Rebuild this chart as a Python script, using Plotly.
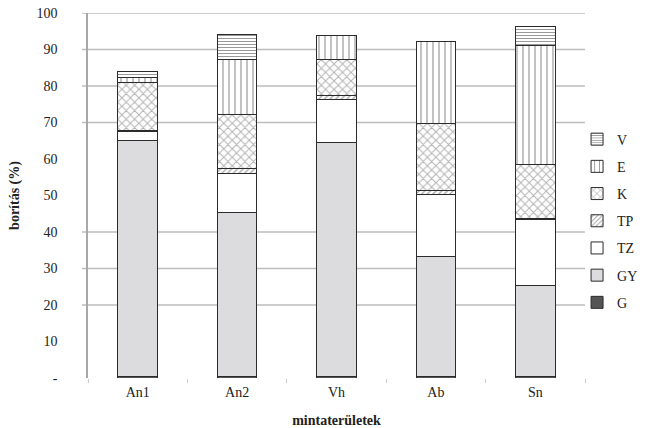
import plotly.graph_objects as go

categories = ["An1", "An2", "Vh", "Ab", "Sn"]

# stacked from bottom to top
G = [0.3, 0.4, 0.3, 0.3, 0.3]
GY = [64.7, 45.0, 64.3, 32.9, 25.0]
TZ = [2.5, 10.7, 11.6, 17.2, 18.0]
TP = [0.4, 1.2, 1.3, 1.1, 0.5]
K = [13.0, 14.9, 9.8, 18.3, 14.7]
E = [1.5, 15.0, 6.5, 22.5, 32.7]
V = [1.7, 6.9, 0.0, 0.0, 5.1]

y_tick_vals = [0, 10, 20, 30, 40, 50, 60, 70, 80, 90, 100]
y_tick_text = ["-", "10", "20", "30", "40", "50", "60", "70", "80", "90", "100"]
grid_values = [20, 30, 40, 70, 80, 90, 100]

FONT = "Liberation Serif"
LINE = dict(color="#2b2b2b", width=1)

series = [
    ("G", G, dict(color="#555555", line=LINE)),
    ("GY", GY, dict(color="#dcdcde", line=LINE)),
    ("TZ", TZ, dict(color="#ffffff", line=LINE)),
    ("TP", TP, dict(color="#ffffff", line=LINE,
                    pattern=dict(shape="/", fgcolor="#444444", bgcolor="#ffffff", size=4, solidity=0.3))),
    ("K", K, dict(color="#ffffff", line=LINE,
                  pattern=dict(shape="x", fgcolor="#666666", bgcolor="#ffffff", size=6, solidity=0.3))),
    ("E", E, dict(color="#ffffff", line=LINE,
                  pattern=dict(shape="|", fgcolor="#333333", bgcolor="#ffffff", size=6, solidity=0.2))),
    ("V", V, dict(color="#ffffff", line=LINE,
                  pattern=dict(shape="-", fgcolor="#333333", bgcolor="#ffffff", size=3, solidity=0.35))),
]

fig = go.Figure()
n = len(series)
for i, (name, vals, marker) in enumerate(series):
    fig.add_trace(go.Bar(x=categories, y=vals, name=name, marker=marker,
                         width=0.4, legendgroup=name, legendrank=n - i))

for gv in grid_values:
    fig.add_shape(type="line", xref="paper", yref="y", x0=-0.012, x1=1, y0=gv, y1=gv,
                  line=dict(color="#bdbdbd", width=1.5), layer="below")

fig.update_layout(
    width=645, height=428,
    margin=dict(l=88, r=60, t=13, b=50, autoexpand=False),
    barmode="stack",
    plot_bgcolor="white", paper_bgcolor="white",
    font=dict(family=FONT, size=14, color="#222222"),
    showlegend=True,
    legend=dict(x=0.984, xanchor="left", y=0.43, yanchor="middle",
                traceorder="grouped", tracegroupgap=6,
                font=dict(family=FONT, size=14, color="#222222"),
                bgcolor="rgba(0,0,0,0)"),
    xaxis=dict(showgrid=False, showline=False, ticks="outside", tickson="boundaries",
               ticklen=4, tickcolor="#cccccc", automargin=False, ticklabelstandoff=4,
               title=dict(text="<b>mintaterületek</b>", standoff=16,
                          font=dict(family=FONT, size=14))),
    yaxis=dict(range=[0, 100], tickmode="array", tickvals=y_tick_vals, ticktext=y_tick_text,
               showgrid=False, zeroline=False, showline=True, linecolor="#a8a8a8", linewidth=1.5,
               ticks="outside", ticklen=26, tickcolor="rgba(0,0,0,0)", automargin=False,
               ticklabeloverflow="allow",
               title=dict(text="<b>borítás (%)</b>", standoff=14,
                          font=dict(family=FONT, size=14))),
)

fig.write_html("out.html", config={"displayModeBar": False},
               post_script="document.body.style.margin='0';")
